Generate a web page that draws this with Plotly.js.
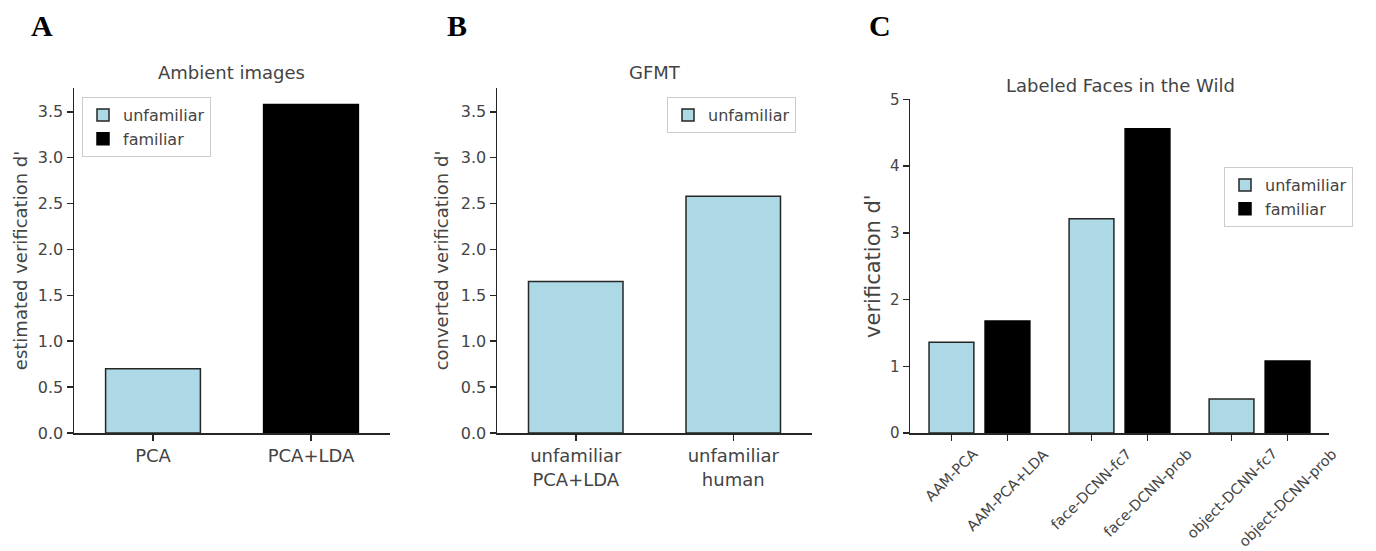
<!DOCTYPE html>
<html>
<head>
<meta charset="utf-8">
<script src="https://cdn.plot.ly/plotly-3.0.1.min.js"></script>
<style>html,body{margin:0;padding:0;background:#fff;}#chart{width:1376px;height:551px;}</style>
</head>
<body>
<div id="chart"></div>
<script>
// ---- Data ----
const seriesNames = ['unfamiliar', 'familiar'];

// Panel A: Ambient images
const ambientCategories = ['PCA', 'PCA+LDA'];
const ambientUnfamiliar = [0.70];      // PCA
const ambientFamiliar = [3.58];        // PCA+LDA

// Panel B: GFMT
const gfmtCategories = ['unfamiliar<br>PCA+LDA', 'unfamiliar<br>human'];
const gfmtUnfamiliar = [1.65, 2.58];

// Panel C: Labeled Faces in the Wild
const lfwGroups = ['AAM', 'face-DCNN', 'object-DCNN'];
const lfwTickLabels = ['AAM-PCA', 'AAM-PCA+LDA', 'face-DCNN-fc7', 'face-DCNN-prob', 'object-DCNN-fc7', 'object-DCNN-prob'];
const lfwUnfamiliar = [1.36, 3.21, 0.51];
const lfwFamiliar = [1.68, 4.56, 1.08];

// ---- Styling ----
const LIGHT = '#add8e6';
const DARK = '#000000';
const EDGE = '#262626';
const TXT = '#444444';
const FONT = 'DejaVu Sans, sans-serif';
const W = 1376, H = 551;
const px = v => v / W;
const py = v => 1 - v / H;

// Panel C positions: groups spaced 2.5 apart, pair members 1 apart
const lfwPosU = lfwGroups.map((g, i) => i * 2.5);
const lfwPosF = lfwGroups.map((g, i) => i * 2.5 + 1);
const lfwTickVals = [];
lfwGroups.forEach((g, i) => { lfwTickVals.push(lfwPosU[i], lfwPosF[i]); });

const traces = [
  {type: 'bar', name: seriesNames[0], x: [ambientCategories[0]], y: ambientUnfamiliar, width: 0.6,
   marker: {color: LIGHT, line: {color: EDGE, width: 1.5}}, xaxis: 'x', yaxis: 'y', legend: 'legend'},
  {type: 'bar', name: seriesNames[1], x: [ambientCategories[1]], y: ambientFamiliar, width: 0.6,
   marker: {color: DARK, line: {color: DARK, width: 1.5}}, xaxis: 'x', yaxis: 'y', legend: 'legend'},
  {type: 'bar', name: seriesNames[0], x: gfmtCategories, y: gfmtUnfamiliar, width: 0.6,
   marker: {color: LIGHT, line: {color: EDGE, width: 1.5}}, xaxis: 'x2', yaxis: 'y2', legend: 'legend2'},
  {type: 'bar', name: seriesNames[0], x: lfwPosU, y: lfwUnfamiliar, width: 0.8,
   marker: {color: LIGHT, line: {color: EDGE, width: 1.5}}, xaxis: 'x3', yaxis: 'y3', legend: 'legend3'},
  {type: 'bar', name: seriesNames[1], x: lfwPosF, y: lfwFamiliar, width: 0.8,
   marker: {color: DARK, line: {color: DARK, width: 1.5}}, xaxis: 'x3', yaxis: 'y3', legend: 'legend3'}
];

const axisBase = {
  showline: true, linecolor: EDGE, linewidth: 1.5, showgrid: false, zeroline: false,
  ticks: 'outside', ticklen: 6, tickwidth: 1.5, tickcolor: EDGE,
  tickfont: {family: FONT, size: 16, color: TXT}, fixedrange: true
};

const yA = [py(433), py(88)];
const yC = [py(433), py(99.3)];

const legendBase = {
  bgcolor: 'rgba(255,255,255,0.8)', bordercolor: '#cccccc', borderwidth: 1,
  font: {family: FONT, size: 16, color: TXT}, xanchor: 'left', yanchor: 'top',
  itemclick: false, itemdoubleclick: false, tracegroupgap: 0
};

const ann = (text, x, y, size, family, color) => ({
  text: text, x: px(x), y: py(y), xref: 'paper', yref: 'paper', showarrow: false,
  xanchor: 'center', yanchor: 'middle', font: {family: family, size: size, color: color}
});
const SERIF = 'Liberation Serif, Times New Roman, serif';

// Rotated tick labels for panel C, centred under each tick (matplotlib style)
const lfwLabelAnns = lfwTickLabels.map((t, i) => ({
  text: t, x: lfwTickVals[i], y: py(443), xref: 'x3', yref: 'paper', showarrow: false,
  xanchor: 'center', yanchor: 'top', textangle: -45,
  font: {family: FONT, size: 14.5, color: TXT}
}));

const layout = {
  width: W, height: H,
  margin: {l: 0, r: 0, t: 0, b: 0},
  paper_bgcolor: '#fff', plot_bgcolor: '#fff',
  barmode: 'overlay',
  font: {family: FONT, color: TXT},
  xaxis: Object.assign({}, axisBase, {domain: [px(74), px(390)], anchor: 'y', type: 'category',
    range: [-0.5, 1.5], tickfont: {family: FONT, size: 18, color: TXT}}),
  yaxis: Object.assign({}, axisBase, {domain: yA, anchor: 'x', range: [0, 3.76], dtick: 0.5, tickformat: '.1f',
    title: {text: "estimated verification d'", font: {family: FONT, size: 18, color: TXT}, standoff: 5}}),
  xaxis2: Object.assign({}, axisBase, {domain: [px(497), px(812)], anchor: 'y2', type: 'category',
    range: [-0.5, 1.5], tickfont: {family: FONT, size: 18, color: TXT}}),
  yaxis2: Object.assign({}, axisBase, {domain: yA, anchor: 'x2', range: [0, 3.76], dtick: 0.5, tickformat: '.1f',
    title: {text: "converted verification d'", font: {family: FONT, size: 18, color: TXT}, standoff: 7}}),
  xaxis3: Object.assign({}, axisBase, {domain: [px(910), px(1329)], anchor: 'y3',
    range: [-0.74, 6.74], tickvals: lfwTickVals, showticklabels: false}),
  yaxis3: Object.assign({}, axisBase, {domain: yC, anchor: 'x3', range: [0, 5], dtick: 1,
    tickfont: {family: FONT, size: 15, color: TXT},
    title: {text: "verification d'", font: {family: FONT, size: 21, color: TXT}, standoff: 3}}),
  legend: Object.assign({}, legendBase, {x: px(82), y: py(97)}),
  legend2: Object.assign({}, legendBase, {x: px(667), y: py(97)}),
  legend3: Object.assign({}, legendBase, {x: px(1224), y: py(167)}),
  annotations: [
    ann('Ambient images', 231, 72, 18, FONT, TXT),
    ann('GFMT', 655, 72, 18, FONT, TXT),
    ann('Labeled Faces in the Wild', 1120, 85, 18, FONT, TXT),
    ann('<b>A</b>', 42, 25, 30, SERIF, '#000'),
    ann('<b>B</b>', 457, 25, 30, SERIF, '#000'),
    ann('<b>C</b>', 880, 25, 30, SERIF, '#000')
  ].concat(lfwLabelAnns)
};

Plotly.newPlot('chart', traces, layout, {displayModeBar: false, staticPlot: true});
</script>
</body>
</html>
